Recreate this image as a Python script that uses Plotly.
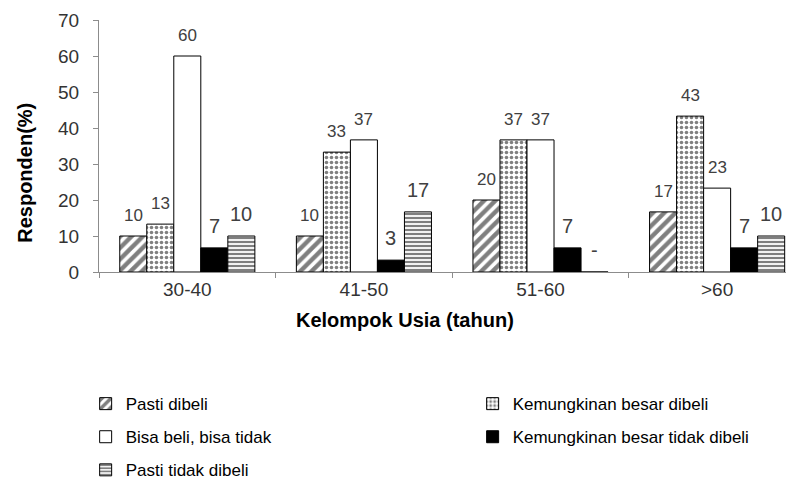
import plotly.graph_objects as go

# Age groups (x categories)
kelompok_usia = ["30-40", "41-50", "51-60", ">60"]

# Share of respondents (%) per purchase intention, one list per answer
pasti_dibeli = [10.0, 10.0, 20.0, 16.7]
kemungkinan_besar_dibeli = [13.3, 33.3, 36.7, 43.3]
bisa_beli_bisa_tidak = [60.0, 36.7, 36.7, 23.3]
kemungkinan_besar_tidak_dibeli = [6.7, 3.3, 6.7, 6.7]
pasti_tidak_dibeli = [10.0, 16.7, 0.0, 10.0]

series_names = [
    "Pasti dibeli",
    "Kemungkinan besar dibeli",
    "Bisa beli, bisa tidak",
    "Kemungkinan besar tidak dibeli",
    "Pasti tidak dibeli",
]
series_values = [
    pasti_dibeli,
    kemungkinan_besar_dibeli,
    bisa_beli_bisa_tidak,
    kemungkinan_besar_tidak_dibeli,
    pasti_tidak_dibeli,
]

y_ticks = [0, 10, 20, 30, 40, 50, 60, 70]

FONT = "Liberation Sans, Arial, sans-serif"
AXIS_GREY = "#8c8c8c"
TEXT = "#333333"
LABEL = "#404040"

# Fill style for each series
patterns = [
    dict(shape="/", fgcolor="black", bgcolor="white", size=8, solidity=0.55),
    dict(shape=".", fgcolor="black", bgcolor="white", size=5, solidity=0.4),
    dict(shape="", fgcolor="black", bgcolor="white"),
    dict(shape="", fgcolor="black", bgcolor="black"),
    dict(shape="-", fgcolor="black", bgcolor="white", size=4, solidity=0.55),
]
fills = ["white", "white", "white", "black", "white"]
label_sizes = [17, 17, 17, 20, 20]
legend_ids = ["legend", "legend2", "legend", "legend2", "legend"]

BARGAP = 0.235
n_series = len(series_names)
bar_w = (1 - BARGAP) / n_series

fig = go.Figure()
annotations = []
for si, (name, vals) in enumerate(zip(series_names, series_values)):
    fig.add_trace(go.Bar(
        x=kelompok_usia,
        y=vals,
        name=name,
        marker=dict(color=fills[si], pattern=patterns[si],
                    line=dict(color="black", width=1)),
        legend=legend_ids[si],
        legendgroup=name,
        hoverinfo="skip",
    ))
    # value labels above each bar of this series
    for gi, v in enumerate(vals):
        annotations.append(dict(
            x=gi + (si - (n_series - 1) / 2) * bar_w,
            y=v,
            xref="x", yref="y",
            text=f"{v:.0f}" if v > 0 else "-",
            showarrow=False,
            yanchor="bottom",
            yshift=9,
            font=dict(family=FONT, size=label_sizes[si], color=LABEL),
        ))

# axis titles
annotations.append(dict(
    text="<b>Kelompok Usia (tahun)</b>", xref="paper", yref="paper",
    x=0.4454, y=-0.19, showarrow=False, xanchor="center", yanchor="middle",
    font=dict(family=FONT, size=20, color="black"),
))
annotations.append(dict(
    text="<b>Responden(%)</b>", xref="paper", yref="paper",
    x=-0.108, y=0.393, showarrow=False, xanchor="center", yanchor="middle",
    textangle=-90, font=dict(family=FONT, size=20, color="black"),
))

legend_style = dict(
    orientation="v", xanchor="left", yanchor="top",
    xref="container", yref="container",
    font=dict(family=FONT, size=17, color="black"),
    bgcolor="rgba(0,0,0,0)", traceorder="grouped", tracegroupgap=8,
)

fig.update_layout(
    width=793, height=482,
    margin=dict(l=99, r=7, t=20, b=210, autoexpand=False),
    paper_bgcolor="white", plot_bgcolor="white",
    barmode="group", bargap=BARGAP, bargroupgap=0,
    font=dict(family=FONT, color=TEXT),
    annotations=annotations,
    legend=dict(x=0.108, y=0.199, **legend_style),
    legend2=dict(x=0.596, y=0.199, **legend_style),
    xaxis=dict(
        type="category", range=[-0.5, 3.39],
        showline=True, linecolor=AXIS_GREY, linewidth=1,
        ticks="outside", tickson="boundaries", ticklen=5, tickcolor=AXIS_GREY,
        showgrid=False, zeroline=False,
        tickfont=dict(family=FONT, size=19, color=TEXT),
    ),
    yaxis=dict(
        range=[0, 70], tickvals=y_ticks,
        showline=True, linecolor=AXIS_GREY, linewidth=1,
        ticks="outside", ticklen=5, tickcolor=AXIS_GREY,
        ticklabelstandoff=10,
        showgrid=False, zeroline=False,
        tickfont=dict(family=FONT, size=19, color=TEXT),
    ),
)

fig.write_html("out.html")
